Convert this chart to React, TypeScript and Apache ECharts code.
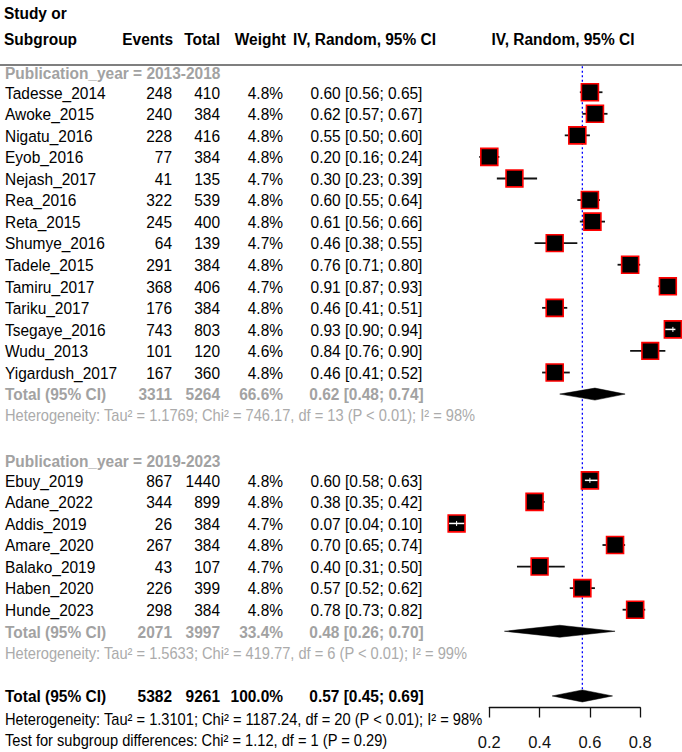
import React, { useEffect, useRef } from 'react';
import * as echarts from 'echarts';

// ---- Subgroup 1: publication year 2013-2018 ----
const group1Studies = ['Tadesse_2014', 'Awoke_2015', 'Nigatu_2016', 'Eyob_2016', 'Nejash_2017', 'Rea_2016', 'Reta_2015', 'Shumye_2016', 'Tadele_2015', 'Tamiru_2017', 'Tariku_2017', 'Tsegaye_2016', 'Wudu_2013', 'Yigardush_2017'];
const group1Events = [248, 240, 228, 77, 41, 322, 245, 64, 291, 368, 176, 743, 101, 167];
const group1Totals = [410, 384, 416, 384, 135, 539, 400, 139, 384, 406, 384, 803, 120, 360];
const group1Weights = [4.8, 4.8, 4.8, 4.8, 4.7, 4.8, 4.8, 4.7, 4.8, 4.7, 4.8, 4.8, 4.6, 4.8];
const group1Est = [0.6, 0.62, 0.55, 0.2, 0.3, 0.6, 0.61, 0.46, 0.76, 0.91, 0.46, 0.93, 0.84, 0.46];
const group1Lower = [0.56, 0.57, 0.5, 0.16, 0.23, 0.55, 0.56, 0.38, 0.71, 0.87, 0.41, 0.9, 0.76, 0.41];
const group1Upper = [0.65, 0.67, 0.6, 0.24, 0.39, 0.64, 0.66, 0.55, 0.8, 0.93, 0.51, 0.94, 0.9, 0.52];

// ---- Subgroup 2: publication year 2019-2023 ----
const group2Studies = ['Ebuy_2019', 'Adane_2022', 'Addis_2019', 'Amare_2020', 'Balako_2019', 'Haben_2020', 'Hunde_2023'];
const group2Events = [867, 344, 26, 267, 43, 226, 298];
const group2Totals = [1440, 899, 384, 384, 107, 399, 384];
const group2Weights = [4.8, 4.8, 4.7, 4.8, 4.7, 4.8, 4.8];
const group2Est = [0.6, 0.38, 0.07, 0.7, 0.4, 0.57, 0.78];
const group2Lower = [0.58, 0.35, 0.04, 0.65, 0.31, 0.52, 0.73];
const group2Upper = [0.63, 0.42, 0.1, 0.74, 0.5, 0.62, 0.82];

// ---- Pooled estimates: subgroup 1, subgroup 2, overall ----
const subgroupLabels = ['Publication_year = 2013-2018', 'Publication_year = 2019-2023'];
const pooledEvents = [3311, 2071, 5382];
const pooledTotals = [5264, 3997, 9261];
const pooledWeights = [66.6, 33.4, 100.0];
const pooledEst = [0.62, 0.48, 0.57];
const pooledLower = [0.48, 0.26, 0.45];
const pooledUpper = [0.74, 0.7, 0.69];

// ---- Heterogeneity statistics: subgroup 1, subgroup 2, overall ----
const hetTau2 = ['1.1769', '1.5633', '1.3101'];
const hetChi2 = ['746.17', '419.77', '1187.24'];
const hetDf = [13, 6, 20];
const hetI2 = [98, 99, 98];
const subgroupTestChi2 = '1.12';
const subgroupTestDf = 1;
const subgroupTestP = '0.29';

// ---- Axis ticks ----
const axisTicks = [0.2, 0.4, 0.6, 0.8];

// ---- layout ----
const FONT = 'Liberation Sans, Arial, Helvetica, sans-serif';
const SX = 0.91; // horizontal text compression
const MAIN_SIZE = 17;
const HET_SIZE = 16.1;
const GREY = '#a2a2a2';
const HET_GREY = '#ababab';
const COL = { name: 5, events: 172, total: 220, weight: 283, ci: 366.5 };
const BOX = 17; // box side for a 4.8% weight

type Cell = { text: string; x: number; align: 'left' | 'right' | 'center' };
type TextRow = { row: number; cells: Cell[]; color: string; weight: string; size: number };

const ciText = (e: number, l: number, u: number) => `${e.toFixed(2)} [${l.toFixed(2)}; ${u.toFixed(2)}]`;
const hetText = (i: number) =>
  `Heterogeneity: Tau² = ${hetTau2[i]}; Chi² = ${hetChi2[i]}, df = ${hetDf[i]} (P < 0.01); I² = ${hetI2[i]}%`;

const groups = [
  { studies: group1Studies, events: group1Events, totals: group1Totals, weights: group1Weights, est: group1Est, lower: group1Lower, upper: group1Upper },
  { studies: group2Studies, events: group2Events, totals: group2Totals, weights: group2Weights, est: group2Est, lower: group2Lower, upper: group2Upper },
];

const textRows: TextRow[] = [];
const studyData: number[][] = [];
const pooledData: number[][] = [];

const tableCells = (name: string, ev: number, tot: number, w: number, e: number, l: number, u: number): Cell[] => [
  { text: name, x: COL.name, align: 'left' },
  { text: String(ev), x: COL.events, align: 'right' },
  { text: String(tot), x: COL.total, align: 'right' },
  { text: `${w.toFixed(1)}%`, x: COL.weight, align: 'right' },
  { text: ciText(e, l, u), x: COL.ci, align: 'center' },
];

let row = -1;
groups.forEach((g, gi) => {
  textRows.push({ row: row + 0.08, cells: [{ text: subgroupLabels[gi], x: COL.name, align: 'left' }], color: GREY, weight: 'bold', size: MAIN_SIZE });
  row += 1;
  g.studies.forEach((name, i) => {
    textRows.push({ row, cells: tableCells(name, g.events[i], g.totals[i], g.weights[i], g.est[i], g.lower[i], g.upper[i]), color: '#000', weight: 'normal', size: MAIN_SIZE });
    studyData.push([g.est[i], row, g.lower[i], g.upper[i], g.weights[i]]);
    row += 1;
  });
  textRows.push({ row, cells: tableCells('Total (95% CI)', pooledEvents[gi], pooledTotals[gi], pooledWeights[gi], pooledEst[gi], pooledLower[gi], pooledUpper[gi]), color: GREY, weight: 'bold', size: MAIN_SIZE });
  pooledData.push([pooledEst[gi], row, pooledLower[gi], pooledUpper[gi]]);
  row += 1;
  textRows.push({ row, cells: [{ text: hetText(gi), x: COL.name, align: 'left' }], color: HET_GREY, weight: 'normal', size: HET_SIZE });
  row += 2;
});
// overall
textRows.push({ row, cells: tableCells('Total (95% CI)', pooledEvents[2], pooledTotals[2], pooledWeights[2], pooledEst[2], pooledLower[2], pooledUpper[2]), color: '#000', weight: 'bold', size: MAIN_SIZE });
pooledData.push([pooledEst[2], row, pooledLower[2], pooledUpper[2]]);
const overallRow = row;
row += 1;
textRows.push({ row: row + 0.1, cells: [{ text: hetText(2), x: COL.name, align: 'left' }], color: '#000', weight: 'normal', size: HET_SIZE });
row += 1;
textRows.push({ row: row + 0.05, cells: [{ text: `Test for subgroup differences: Chi² = ${subgroupTestChi2}, df = ${subgroupTestDf} (P = ${subgroupTestP})`, x: COL.name, align: 'left' }], color: '#000', weight: 'normal', size: HET_SIZE });

// row geometry
const ROW0_Y = 92.3;
const ROW_H = 21.6;
const Y_MIN = -1.6;
const Y_MAX = 30.6;
// x geometry
const X_PER_UNIT = 251.5;
const X_ZERO = 439.0;
const X_MAX = 0.96;

const headerText = (x: number, y: number, text: string, align: string) => ({
  type: 'text', x, y, scaleX: SX, silent: true,
  style: { text, fill: '#000', fontSize: MAIN_SIZE, fontWeight: 'bold', fontFamily: FONT, align, verticalAlign: 'middle' },
});

const option: any = {
  animation: false,
  backgroundColor: '#fff',
  grid: [
    { left: X_ZERO, top: ROW0_Y + Y_MIN * ROW_H, width: X_MAX * X_PER_UNIT, height: (Y_MAX - Y_MIN) * ROW_H },
    { left: X_ZERO + axisTicks[0] * X_PER_UNIT, top: 600, width: (axisTicks[axisTicks.length - 1] - axisTicks[0]) * X_PER_UNIT, height: 107.5 },
  ],
  xAxis: [
    { type: 'value', gridIndex: 0, min: 0, max: X_MAX, show: false },
    {
      type: 'value', gridIndex: 1, min: axisTicks[0], max: axisTicks[axisTicks.length - 1], interval: 0.2,
      axisLine: { show: true, lineStyle: { color: '#111', width: 1.3 } },
      axisTick: { show: true, length: 10, lineStyle: { color: '#111', width: 1.3 } },
      axisLabel: { margin: 26, fontSize: 16.5, color: '#111', fontFamily: FONT, formatter: (v: number) => v.toFixed(1) },
      splitLine: { show: false },
    },
  ],
  yAxis: [
    { type: 'value', gridIndex: 0, min: Y_MIN, max: Y_MAX, inverse: true, show: false },
    { type: 'value', gridIndex: 1, show: false },
  ],
  graphic: [
    headerText(4, 13, 'Study or', 'left'),
    headerText(4, 38.5, 'Subgroup', 'left'),
    headerText(COL.events + 1, 38.5, 'Events', 'right'),
    headerText(COL.total, 38.5, 'Total', 'right'),
    headerText(COL.weight + 3, 38.5, 'Weight', 'right'),
    headerText(364.5, 38.5, 'IV, Random, 95% CI', 'center'),
    headerText(563, 38.5, 'IV, Random, 95% CI', 'center'),
    { type: 'line', silent: true, shape: { x1: 0, y1: 65, x2: 682, y2: 65 }, style: { stroke: '#555', lineWidth: 1.5 } },
  ],
  series: [
    {
      // reference line at the overall estimate
      type: 'custom', xAxisIndex: 0, yAxisIndex: 0, z: 1,
      data: [[pooledEst[2], -1.2, overallRow]],
      encode: { x: 0, y: 1 },
      renderItem: (_p: any, api: any) => {
        const a = api.coord([api.value(0), api.value(1)]);
        const b = api.coord([api.value(0), api.value(2)]);
        return { type: 'line', shape: { x1: a[0], y1: a[1], x2: b[0], y2: b[1] }, style: { stroke: '#0000ff', lineWidth: 1.3, lineDash: [2, 2.5] } };
      },
    },
    {
      // individual studies: CI line and weighted box
      type: 'custom', xAxisIndex: 0, yAxisIndex: 0, z: 3,
      data: studyData,
      encode: { x: 0, y: 1 },
      renderItem: (_p: any, api: any) => {
        const r = api.value(1);
        const c = api.coord([api.value(0), r]);
        const l = api.coord([api.value(2), r]);
        const h = api.coord([api.value(3), r]);
        const size = BOX * Math.sqrt(api.value(4) / 4.8);
        const half = size / 2;
        const inside = l[0] >= c[0] - half && h[0] <= c[0] + half;
        const children: any[] = [];
        if (!inside) {
          children.push({ type: 'line', shape: { x1: l[0], y1: c[1], x2: h[0], y2: c[1] }, style: { stroke: '#111', lineWidth: 1.8 } });
        }
        children.push({ type: 'rect', shape: { x: c[0] - half, y: c[1] - half, width: size, height: size }, style: { fill: '#000', stroke: '#ff0000', lineWidth: 1.6 } });
        if (inside) {
          children.push({ type: 'line', shape: { x1: l[0], y1: c[1], x2: h[0], y2: c[1] }, style: { stroke: '#fff', lineWidth: 1.5 } });
          children.push({ type: 'line', shape: { x1: c[0], y1: c[1] - 2.5, x2: c[0], y2: c[1] + 2.5 }, style: { stroke: '#fff', lineWidth: 1 } });
        }
        return { type: 'group', children };
      },
    },
    {
      // pooled diamonds
      type: 'custom', xAxisIndex: 0, yAxisIndex: 0, z: 3,
      data: pooledData,
      encode: { x: 0, y: 1 },
      renderItem: (_p: any, api: any) => {
        const r = api.value(1);
        const c = api.coord([api.value(0), r]);
        const l = api.coord([api.value(2), r]);
        const h = api.coord([api.value(3), r]);
        return {
          type: 'polygon',
          shape: { points: [[l[0], c[1]], [c[0], c[1] - 6], [h[0], c[1]], [c[0], c[1] + 6]] },
          style: { fill: '#000', stroke: '#000', lineWidth: 0.5 },
        };
      },
    },
    {
      // table text
      type: 'custom', xAxisIndex: 0, yAxisIndex: 0, z: 4,
      data: textRows.map((t) => [0, t.row]),
      encode: { x: 0, y: 1 },
      renderItem: (p: any, api: any) => {
        const t = textRows[p.dataIndex];
        const y = api.coord([0, api.value(1)])[1];
        return {
          type: 'group',
          children: t.cells.map((c) => ({
            type: 'text', x: c.x, y, scaleX: SX,
            style: { text: c.text, fill: t.color, fontSize: t.size, fontWeight: t.weight, fontFamily: FONT, align: c.align, verticalAlign: 'middle' },
          })),
        };
      },
    },
  ],
};

export default function App() {
  const ref = useRef<HTMLDivElement>(null);
  useEffect(() => {
    const chart = echarts.init(ref.current!, null, { renderer: 'svg' });
    chart.setOption(option);
    return () => chart.dispose();
  }, []);
  return <div ref={ref} style={{ position: 'fixed', left: 0, top: 0, width: 682, height: 752, background: '#fff' }} />;
}
